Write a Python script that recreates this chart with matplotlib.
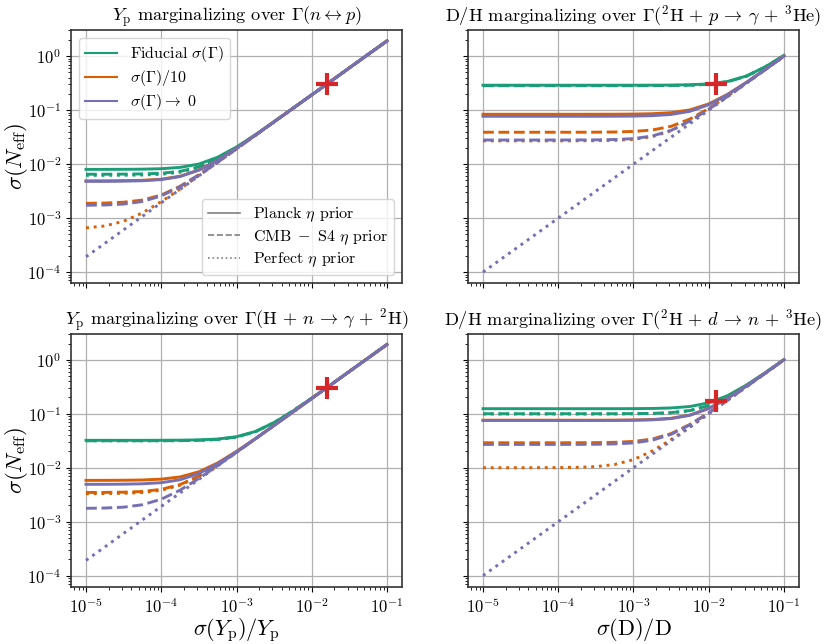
import numpy as np
import matplotlib
matplotlib.use("Agg")
import matplotlib.pyplot as plt
from matplotlib.lines import Line2D

plt.rcParams['font.family'] = 'serif'
plt.rcParams['font.serif'] = ['cmr10', 'DejaVu Serif']
plt.rcParams['mathtext.fontset'] = 'cm'
plt.rcParams['axes.formatter.use_mathtext'] = True
plt.rcParams['axes.unicode_minus'] = False

# ---------------- data ----------------
# x grid: sigma(Y_p)/Y_p or sigma(D)/D, quarter-decade steps 1e-5 .. 1e-1
x_vals = [1.0e-5, 1.78e-5, 3.16e-5, 5.62e-5, 1.0e-4, 1.78e-4, 3.16e-4, 5.62e-4,
          1.0e-3, 1.78e-3, 3.16e-3, 5.62e-3, 1.0e-2, 1.78e-2, 3.16e-2, 5.62e-2, 1.0e-1]

# Top-left: Y_p marginalizing over Gamma(n <-> p)
tl_fid_planck = [0.0080, 0.0080, 0.00802, 0.00807, 0.00823, 0.00870, 0.01004, 0.01344, 0.0208, 0.0350, 0.0612, 0.1083, 0.1922, 0.341, 0.607, 1.08, 1.92]
tl_fid_s4     = [0.0065, 0.0065, 0.00653, 0.00659, 0.00678, 0.00734, 0.00889, 0.0126, 0.0203, 0.0347, 0.0610, 0.1082, 0.192, 0.341, 0.607, 1.08, 1.92]
tl_fid_perf   = [0.0062, 0.0062, 0.00623, 0.00629, 0.00649, 0.00708, 0.00867, 0.01245, 0.0202, 0.0347, 0.0610, 0.1082, 0.192, 0.341, 0.607, 1.08, 1.92]
tl_t10_planck = [0.0049, 0.0049, 0.00494, 0.00502, 0.00526, 0.00597, 0.00780, 0.01186, 0.0198, 0.0345, 0.0609, 0.1081, 0.192, 0.341, 0.607, 1.08, 1.92]
tl_t10_s4     = [0.00188, 0.00190, 0.00197, 0.00216, 0.00268, 0.00389, 0.00635, 0.01096, 0.0193, 0.0342, 0.0607, 0.108, 0.192, 0.341, 0.607, 1.08, 1.92]
tl_t10_perf   = [6.59e-4, 7.16e-4, 8.75e-4, 1.25e-3, 2.02e-3, 3.47e-3, 6.10e-3, 1.08e-2, 0.0192, 0.0341, 0.0607, 0.108, 0.192, 0.341, 0.607, 1.08, 1.92]
tl_t0_planck  = [0.0048, 0.0048, 0.00484, 0.00492, 0.00517, 0.00589, 0.00774, 0.01182, 0.0198, 0.0345, 0.0609, 0.1081, 0.192, 0.341, 0.607, 1.08, 1.92]
tl_t0_s4      = [0.00173, 0.00175, 0.00182, 0.00203, 0.00258, 0.00382, 0.00631, 0.01093, 0.0193, 0.0342, 0.0607, 0.108, 0.192, 0.341, 0.607, 1.08, 1.92]
tl_t0_perf    = [1.92e-4, 3.41e-4, 6.07e-4, 1.08e-3, 1.92e-3, 3.41e-3, 6.07e-3, 1.08e-2, 0.0192, 0.0341, 0.0607, 0.108, 0.192, 0.341, 0.607, 1.08, 1.92]

# Top-right: D/H marginalizing over Gamma(2H + p -> gamma + 3He)
tr_fid_planck = [0.290, 0.290, 0.290, 0.290, 0.290, 0.290, 0.290, 0.290, 0.2902, 0.2905, 0.2917, 0.2954, 0.3068, 0.3402, 0.4291, 0.6325, 1.041]
tr_fid_s4     = [0.285, 0.285, 0.285, 0.285, 0.285, 0.285, 0.285, 0.285, 0.2852, 0.2855, 0.2868, 0.2905, 0.3020, 0.3359, 0.4257, 0.6303, 1.020]
tr_fid_perf   = [0.284, 0.284, 0.284, 0.284, 0.284, 0.284, 0.284, 0.284, 0.2842, 0.2845, 0.2858, 0.2896, 0.3011, 0.3352, 0.4251, 0.6300, 1.018]
tr_t10_planck = [0.0840, 0.0840, 0.0840, 0.0840, 0.0840, 0.0840, 0.0841, 0.0842, 0.0846, 0.0859, 0.0898, 0.1011, 0.1306, 0.1966, 0.3272, 0.5684, 1.0035]
tr_t10_s4     = [0.0390, 0.0390, 0.0390, 0.0390, 0.0390, 0.0390, 0.0391, 0.0394, 0.0403, 0.0429, 0.0502, 0.0684, 0.1073, 0.1820, 0.3186, 0.5635, 1.0008]
tr_t10_perf   = [0.0270, 0.0270, 0.0270, 0.0270, 0.0270, 0.02706, 0.02718, 0.02759, 0.0288, 0.0323, 0.0416, 0.0624, 0.1036, 0.1798, 0.3174, 0.5630, 1.0]
tr_t0_planck  = [0.0770, 0.0770, 0.0770, 0.0770, 0.0770, 0.0770, 0.0770, 0.0772, 0.0776, 0.0790, 0.0832, 0.0953, 0.1262, 0.1937, 0.3255, 0.5633, 1.003]
tr_t0_s4      = [0.0280, 0.0280, 0.0280, 0.0280, 0.0280, 0.02805, 0.02818, 0.02857, 0.0297, 0.0332, 0.0422, 0.0628, 0.1038, 0.1800, 0.3175, 0.5631, 1.0]
tr_t0_perf    = [1.0e-4, 1.78e-4, 3.16e-4, 5.62e-4, 1.0e-3, 1.78e-3, 3.16e-3, 5.62e-3, 0.0100, 0.0178, 0.0316, 0.0562, 0.100, 0.178, 0.316, 0.562, 1.0]

# Bottom-left: Y_p marginalizing over Gamma(H + n -> gamma + 2H)
bl_fid_planck = [0.0322, 0.0322, 0.0322, 0.0322, 0.03226, 0.0324, 0.0328, 0.0340, 0.0375, 0.0469, 0.0687, 0.1127, 0.1948, 0.3425, 0.6079, 1.08, 1.92]
bl_fid_s4     = [0.0316, 0.0316, 0.0316, 0.0316, 0.03166, 0.03178, 0.0322, 0.0334, 0.0370, 0.0465, 0.0684, 0.1125, 0.1947, 0.3424, 0.6078, 1.08, 1.92]
bl_fid_perf   = [0.0316, 0.0316, 0.0316, 0.0316, 0.03166, 0.03178, 0.0322, 0.0334, 0.0370, 0.0465, 0.0684, 0.1125, 0.1947, 0.3424, 0.6078, 1.08, 1.92]
bl_t10_planck = [0.00583, 0.00584, 0.00586, 0.00593, 0.00614, 0.00675, 0.00841, 0.01227, 0.0201, 0.0346, 0.0610, 0.1082, 0.192, 0.341, 0.607, 1.08, 1.92]
bl_t10_s4     = [0.00348, 0.00349, 0.00352, 0.00363, 0.00397, 0.00487, 0.00699, 0.01134, 0.0195, 0.0343, 0.0608, 0.108, 0.192, 0.341, 0.607, 1.08, 1.92]
bl_t10_perf   = [0.00331, 0.00332, 0.00336, 0.00347, 0.00382, 0.00475, 0.00691, 0.01129, 0.0195, 0.0343, 0.0607, 0.108, 0.192, 0.341, 0.607, 1.08, 1.92]
bl_t0_planck  = [0.00492, 0.00493, 0.00496, 0.00504, 0.00528, 0.00599, 0.00781, 0.01187, 0.0198, 0.0345, 0.0609, 0.1081, 0.192, 0.341, 0.607, 1.08, 1.92]
bl_t0_s4      = [0.00177, 0.00179, 0.00186, 0.00206, 0.00261, 0.00384, 0.00632, 0.01094, 0.0193, 0.0342, 0.0607, 0.108, 0.192, 0.341, 0.607, 1.08, 1.92]
bl_t0_perf    = [1.92e-4, 3.41e-4, 6.07e-4, 1.08e-3, 1.92e-3, 3.41e-3, 6.07e-3, 1.08e-2, 0.0192, 0.0341, 0.0607, 0.108, 0.192, 0.341, 0.607, 1.08, 1.92]

# Bottom-right: D/H marginalizing over Gamma(2H + d -> n + 3He)
br_fid_planck = [0.124, 0.124, 0.124, 0.124, 0.124, 0.124, 0.124, 0.124, 0.1244, 0.1253, 0.1280, 0.1361, 0.1593, 0.2167, 0.3397, 0.5757, 1.0077]
br_fid_s4     = [0.100, 0.100, 0.100, 0.100, 0.100, 0.100, 0.100, 0.100, 0.1005, 0.1016, 0.1049, 0.1147, 0.1414, 0.2040, 0.3317, 0.5710, 1.005]
br_fid_perf   = [0.099, 0.099, 0.099, 0.099, 0.099, 0.099, 0.099, 0.0991, 0.0996, 0.1007, 0.1040, 0.1139, 0.1408, 0.2036, 0.3314, 0.5708, 1.005]
br_t10_planck = [0.0760, 0.0760, 0.0760, 0.0760, 0.0760, 0.0760, 0.0760, 0.0762, 0.0767, 0.0781, 0.0823, 0.0945, 0.1256, 0.1933, 0.3252, 0.5633, 1.003]
br_t10_s4     = [0.0290, 0.0290, 0.0290, 0.0290, 0.0290, 0.02905, 0.02917, 0.02955, 0.0307, 0.0340, 0.0429, 0.0633, 0.1041, 0.1801, 0.3176, 0.5631, 1.0]
br_t10_perf   = [0.0100, 0.0100, 0.0100, 0.01002, 0.01005, 0.01016, 0.01049, 0.01147, 0.01414, 0.0204, 0.0332, 0.0571, 0.1005, 0.1781, 0.3164, 0.5624, 1.0]
br_t0_planck  = [0.0750, 0.0750, 0.0750, 0.0750, 0.0750, 0.0750, 0.0750, 0.0752, 0.0757, 0.0771, 0.0814, 0.0937, 0.1250, 0.1929, 0.3250, 0.5632, 1.0028]
br_t0_s4      = [0.0270, 0.0270, 0.0270, 0.0270, 0.0270, 0.02706, 0.02718, 0.02759, 0.0288, 0.0323, 0.0416, 0.0624, 0.1036, 0.1798, 0.3174, 0.5630, 1.0]
br_t0_perf    = [1.0e-4, 1.78e-4, 3.16e-4, 5.62e-4, 1.0e-3, 1.78e-3, 3.16e-3, 5.62e-3, 0.0100, 0.0178, 0.0316, 0.0562, 0.100, 0.178, 0.316, 0.562, 1.0]

# current measurement markers (red crosses)
tl_cross = (0.0158, 0.303)
tr_cross = (0.0123, 0.31)
bl_cross = (0.0158, 0.295)
br_cross = (0.0123, 0.17)

titles = [r"$Y_{\rm p}$ marginalizing over $\Gamma(n \leftrightarrow p)$",
          r"D/H marginalizing over $\Gamma({}^{2}{\rm H}\,+\,p\,\rightarrow\,\gamma\,+\,{}^{3}{\rm He})$",
          r"$Y_{\rm p}$ marginalizing over $\Gamma({\rm H}\,+\,n\,\rightarrow\,\gamma\,+\,{}^{2}{\rm H})$",
          r"D/H marginalizing over $\Gamma({}^{2}{\rm H}\,+\,d\,\rightarrow\,n\,+\,{}^{3}{\rm He})$"]
xlabels = [r"$\sigma(Y_{\rm p})/Y_{\rm p}$", r"$\sigma({\rm D})/{\rm D}$"]
ylabel = r"$\sigma(N_{\rm eff})$"
color_labels = [r"Fiducial $\sigma(\Gamma)$", r"$\sigma(\Gamma)/10$", r"$\sigma(\Gamma) \rightarrow\ 0$"]
style_labels = [r"Planck $\eta$ prior", r"${\rm CMB}\ -\ {\rm S4}\ \eta$ prior", r"Perfect $\eta$ prior"]

colors = ['#1b9e77', '#d95f02', '#7570b3']
styles = ['-', '--', ':']

panels = [
    [[tl_fid_planck, tl_fid_s4, tl_fid_perf], [tl_t10_planck, tl_t10_s4, tl_t10_perf], [tl_t0_planck, tl_t0_s4, tl_t0_perf]],
    [[tr_fid_planck, tr_fid_s4, tr_fid_perf], [tr_t10_planck, tr_t10_s4, tr_t10_perf], [tr_t0_planck, tr_t0_s4, tr_t0_perf]],
    [[bl_fid_planck, bl_fid_s4, bl_fid_perf], [bl_t10_planck, bl_t10_s4, bl_t10_perf], [bl_t0_planck, bl_t0_s4, bl_t0_perf]],
    [[br_fid_planck, br_fid_s4, br_fid_perf], [br_t10_planck, br_t10_s4, br_t10_perf], [br_t0_planck, br_t0_s4, br_t0_perf]],
]
crosses = [tl_cross, tr_cross, bl_cross, br_cross]

fig, axes = plt.subplots(2, 2, figsize=(8.3, 6.44), dpi=100, sharex=True, sharey=True)
fig.subplots_adjust(left=0.0855, right=0.9627, top=0.9534, bottom=0.0885, wspace=0.199, hspace=0.198)

for i, ax in enumerate(axes.flat):
    for ci, col in enumerate(colors):
        for si, ls in enumerate(styles):
            ax.plot(x_vals, panels[i][ci][si], color=col, ls=ls, lw=2.1)
    ax.plot([crosses[i][0]], [crosses[i][1]], marker='+', color='#d62728',
            markersize=16, mew=3, ls='none', zorder=10)
    ax.set_xscale('log')
    ax.set_yscale('log')
    ax.grid(True, which='major', color='#b0b0b0', lw=0.9)
    ax.set_axisbelow(True)
    ax.set_title(titles[i], fontsize=13.2)
    for sp in ax.spines.values():
        sp.set_color('0.2')
        sp.set_linewidth(1.2)
    ax.tick_params(labelsize=12)

for ax in axes[:, 0]:
    ax.set_ylabel(ylabel, fontsize=16.5)
    ax.yaxis.set_label_coords(-0.125, 0.5)
for ax, lab in zip(axes[1, :], xlabels):
    ax.set_xlabel(lab, fontsize=16)
    ax.xaxis.set_label_coords(0.5, -0.115)
axes[0, 0].set_xticks([1e-5, 1e-4, 1e-3, 1e-2, 1e-1])
axes[0, 0].set_yticks([1e-4, 1e-3, 1e-2, 1e-1, 1e0])
axes[0, 0].set_xlim(10**-5.2, 10**-0.8)
axes[0, 0].set_ylim(10**-4.21, 10**0.485)

h1 = [Line2D([], [], color=c, lw=1.5) for c in colors]
h2 = [Line2D([], [], color='gray', lw=1.2, ls=s) for s in styles]
leg1 = axes[0, 0].legend(h1, color_labels, loc='upper left', fontsize=11.5,
                         labelspacing=0.25, borderaxespad=0.5)
axes[0, 0].add_artist(leg1)
axes[0, 0].legend(h2, style_labels, loc='lower right', fontsize=11.5,
                  labelspacing=0.25, borderaxespad=0.5)

fig.savefig('out.png', dpi=100)
